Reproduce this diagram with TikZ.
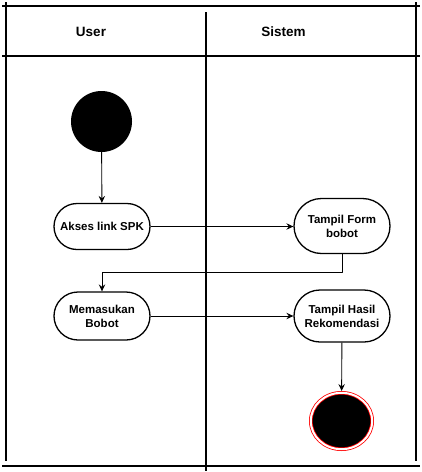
\documentclass[tikz,border=0pt]{standalone}
\usepackage{fontspec}
\setmainfont{Liberation Sans}
\usetikzlibrary{arrows.meta,calc,shapes.misc,shapes.geometric}
\begin{document}
\begin{tikzpicture}[x=1pt,y=-1pt,line join=round,
  lane/.style={line width=1.6pt},
  head/.style={font=\fontsize{13.5}{16}\selectfont\bfseries},
  act/.style={draw,rounded rectangle,line width=1.3pt,minimum width=100pt,inner sep=2pt,align=center,font=\fontsize{11.5}{14}\selectfont\bfseries},
  flow/.style={line width=0.9pt,-{Stealth[length=7pt,width=6.5pt,inset=2.5pt]}}]
\useasboundingbox (0,0) rectangle (422,472);
\draw[lane] (2,6)--(420,6) (2,56)--(420,56) (2,466)--(420,466);
\draw[lane] (6,2)--(6,461) (416,2)--(416,461) (206,12)--(206,471);
\node[head] (user) at (91,32) {User};
\node[head] (sistem) at (283.5,32) {Sistem};
\node[circle,fill,minimum size=61pt,inner sep=0pt] (start) at (101.5,121.5) {};
\node[act,minimum height=46pt] (akses) at (102,226.5) {Akses link SPK};
\node[act,minimum height=55pt] (form) at (342,226) {Tampil Form\\bobot};
\node[act,minimum height=48pt] (masuk) at (102,316) {Memasukan\\Bobot};
\node[act,minimum height=52pt] (hasil) at (342,316) {Tampil Hasil\\Rekomendasi};
\node[ellipse,draw=red,line width=0.8pt,double=white,double distance=2pt,fill=black,minimum width=61.4pt,minimum height=56.4pt,inner sep=0pt,outer sep=1.8pt] (end) at (341.5,421) {};
\draw[flow] (start)--(akses);
\draw[flow] (akses.east)--(akses.east -| form.west);
\draw[flow] (form.south) |- ($(form.south)!0.5!(masuk.north)$) -| (masuk.north);
\draw[flow] (masuk.east)--(masuk.east -| hasil.west);
\draw[flow] (hasil)--(end);
\end{tikzpicture}
\end{document}
